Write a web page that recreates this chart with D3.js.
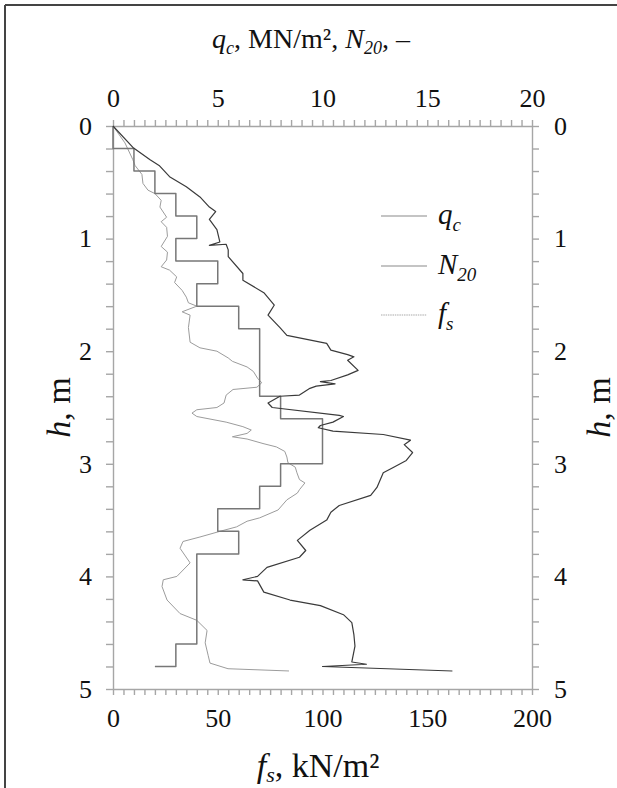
<!DOCTYPE html>
<html>
<head>
<meta charset="utf-8">
<script src="https://cdn.jsdelivr.net/npm/d3@7"></script>
<style>
	body { margin: 0; background: #fff; }
	svg { display: block; font-family: "Liberation Serif", "Times New Roman", serif; }
	.axis path, .axis line { stroke: #a6a6a6; stroke-width: 1.4px; }
	.axis text { font-family: "Liberation Serif", serif; font-size: 26px; fill: #111; }
</style>
</head>
<body>
<div id="chart_area"></div>
<script>

//////////////////////DATA//////////////////////////

// cone resistance q_c (MN/m2) against depth h (m)
var qcDepth = [0, 0.19, 0.30, 0.35, 0.45, 0.54, 0.63, 0.72, 0.76, 0.83, 0.92, 1.03, 1.06, 1.05, 1.10, 1.16,
	1.31, 1.37, 1.48, 1.59, 1.68, 1.79, 1.86, 1.93, 1.99, 2.03, 2.05, 2.08, 2.17, 2.21, 2.26, 2.27, 2.29,
	2.31, 2.33, 2.39, 2.40, 2.46, 2.50, 2.57, 2.58, 2.63, 2.66, 2.68, 2.71, 2.74, 2.79, 2.83, 2.90, 2.97,
	3.03, 3.08, 3.21, 3.28, 3.37, 3.43, 3.50, 3.59, 3.68, 3.77, 3.83, 3.92, 4.00, 4.03, 4.04, 4.14, 4.21,
	4.26, 4.34, 4.41, 4.52, 4.62, 4.76, 4.78, 4.80, 4.84];
var qcValue = [0, 0.95, 1.77, 2.2, 2.7, 3.5, 4.15, 4.6, 4.9, 4.6, 4.96, 5.1, 4.6, 5.4, 5.5, 5.5,
	6.2, 6.2, 7.2, 7.7, 7.4, 7.97, 8.3, 10.2, 10.4, 11.2, 11.5, 11.2, 11.7, 11.2, 10.4, 9.9, 10.6,
	9.7, 9.4, 8.9, 7.97, 7.4, 7.6, 10.8, 11.0, 10.5, 9.9, 9.8, 10.5, 12.9, 14.2, 13.9, 14.3, 14.0,
	13.4, 12.9, 12.6, 12.3, 10.8, 10.4, 10.2, 9.4, 8.8, 9.2, 8.9, 7.35, 6.9, 6.2, 6.9, 7.2, 8.45,
	9.9, 11.0, 11.4, 11.5, 11.55, 11.4, 12.1, 10.0, 16.2];

// number of blows N_20, one value per 0.2 m layer (top of layer), last point closes the step
var n20Depth = [0, 0.2, 0.4, 0.6, 0.8, 1.0, 1.2, 1.4, 1.6, 1.8, 2.0, 2.2, 2.4, 2.6, 2.8, 3.0, 3.2, 3.4,
	3.6, 3.8, 4.0, 4.2, 4.4, 4.6, 4.8];
var n20Value = [0, 1, 2, 3, 4, 3, 5, 4, 6, 7, 7, 7, 8, 10, 10, 8, 7, 5,
	6, 4, 4, 4, 4, 3, 2];

// sleeve friction f_s (kN/m2) against depth h (m)
var fsDepth = [0, 0.15, 0.30, 0.35, 0.43, 0.51, 0.57, 0.60, 0.66, 0.72, 0.81, 0.85, 0.90, 0.98, 1.07,
	1.12, 1.19, 1.25, 1.28, 1.34, 1.39, 1.46, 1.52, 1.57, 1.60, 1.65, 1.68, 1.79, 1.92, 1.97, 2.00, 2.06,
	2.09, 2.14, 2.18, 2.24, 2.28, 2.32, 2.34, 2.39, 2.46, 2.50, 2.52, 2.55, 2.58, 2.63, 2.67, 2.70, 2.73,
	2.76, 2.78, 2.82, 2.85, 2.89, 2.94, 2.99, 3.03, 3.08, 3.14, 3.17, 3.23, 3.26, 3.32, 3.41, 3.48, 3.51,
	3.56, 3.60, 3.65, 3.69, 3.75, 3.88, 4.00, 4.03, 4.09, 4.21, 4.33, 4.39, 4.48, 4.59, 4.70, 4.77, 4.82, 4.84];
var fsValue = [0, 5.7, 9.5, 10.5, 13.8, 14.3, 16.7, 20, 23, 22.4, 25.6, 23, 25.6, 26, 23,
	26, 25.6, 23, 27, 30.4, 29.4, 33, 35, 36, 40, 33, 36.8, 36, 36.8, 41.5, 49.6, 55,
	57, 64, 67, 69, 71, 68.7, 57.3, 54, 53, 49.6, 40, 37.7, 40, 54, 62, 66, 64,
	57, 64, 71.6, 78, 82, 83, 83.5, 87, 87.8, 89, 91.6, 89, 88, 83, 78.8, 70, 64,
	59, 51, 41.5, 33.4, 32, 36.8, 30.5, 24, 23.4, 25.8, 32, 40, 44.9, 44, 45.4, 46.3, 54.9, 84];

// tick values
var hTicks = d3.range(0, 26).map(function(i){ return i / 5; });      // every 0.2 m
var qcTicks = d3.range(0, 41).map(function(i){ return i / 2; });     // every 0.5 MN/m2
var fsTicks = d3.range(0, 41).map(function(i){ return i * 5; });     // every 5 kN/m2

//////////////////////FRAME//////////////////////////

var frame_width = 617;
var frame_height = 788;
var plot = {left: 113, right: 532, top: 126, bottom: 689};

var frame = d3.select("#chart_area").append("svg")
	.attr("width", frame_width)
	.attr("height", frame_height);

// border of the figure (top and left edges only are visible)
frame.append("line")
	.attr("x1", 5).attr("y1", 5).attr("x2", frame_width).attr("y2", 5)
	.style("stroke", "#444").style("stroke-width", 2);
frame.append("line")
	.attr("x1", 5).attr("y1", 5).attr("x2", 5).attr("y2", frame_height)
	.style("stroke", "#444").style("stroke-width", 2);

//////////////////////SCALES AND AXES//////////////////////////

var yScale = d3.scaleLinear().domain([0, 5]).range([plot.top, plot.bottom]);
var qcScale = d3.scaleLinear().domain([0, 20]).range([plot.left, plot.right]);
var fsScale = d3.scaleLinear().domain([0, 200]).range([plot.left, plot.right]);

var topAxis = d3.axisTop(qcScale).tickValues(qcTicks).tickSize(6).tickSizeOuter(0).tickPadding(13)
	.tickFormat(function(d){ return d % 5 === 0 ? d : ""; });
var bottomAxis = d3.axisBottom(fsScale).tickValues(fsTicks).tickSize(6).tickSizeOuter(0).tickPadding(14)
	.tickFormat(function(d){ return d % 50 === 0 ? d : ""; });
var leftAxis = d3.axisLeft(yScale).tickValues(hTicks).tickSize(7).tickSizeOuter(0).tickPadding(14)
	.tickFormat(function(d){ return Number.isInteger(d) ? d : ""; });
var rightAxis = d3.axisRight(yScale).tickValues(hTicks).tickSize(7).tickSizeOuter(0).tickPadding(15)
	.tickFormat(function(d){ return Number.isInteger(d) ? d : ""; });

function drawAxis(axis, transform) {
	frame.append("g").attr("class", "axis")
		.attr("transform", transform)
		.call(axis)
		.attr("font-family", "Liberation Serif")
		.attr("font-size", 26);
}
drawAxis(topAxis, "translate(0," + plot.top + ")");
drawAxis(bottomAxis, "translate(0," + plot.bottom + ")");
drawAxis(leftAxis, "translate(" + plot.left + ",0)");
drawAxis(rightAxis, "translate(" + plot.right + ",0)");

// axis titles
var topTitle = frame.append("text")
	.attr("x", 311).attr("y", 48)
	.attr("text-anchor", "middle")
	.style("font-size", "28px").style("fill", "#111");
topTitle.append("tspan").style("font-style", "italic").text("q");
topTitle.append("tspan").style("font-style", "italic").style("font-size", "18px").attr("dy", 6).text("c");
topTitle.append("tspan").attr("dy", -6).text(", MN/m², ");
topTitle.append("tspan").style("font-style", "italic").text("N");
topTitle.append("tspan").style("font-style", "italic").style("font-size", "18px").attr("dy", 6).text("20");
topTitle.append("tspan").attr("dy", -6).text(", –");

var bottomTitle = frame.append("text")
	.attr("x", 318).attr("y", 777)
	.attr("text-anchor", "middle")
	.style("font-size", "34px").style("fill", "#111");
bottomTitle.append("tspan").style("font-style", "italic").text("f");
bottomTitle.append("tspan").style("font-style", "italic").style("font-size", "22px").attr("dy", 5).text("s");
bottomTitle.append("tspan").attr("dy", -5).text(", kN/m²");

[58, 598].forEach(function(cx){
	var t = frame.append("text")
		.attr("transform", "translate(" + cx + "," + (plot.top + plot.bottom) / 2 + ") rotate(-90)")
		.attr("text-anchor", "middle")
		.attr("dy", "0.35em")
		.style("font-size", "34px").style("fill", "#111");
	t.append("tspan").style("font-style", "italic").text("h");
	t.append("tspan").text(", m");
});

//////////////////////CURVES//////////////////////////

var qcLine = d3.line()
	.x(function(d){ return qcScale(qcValue[d]); })
	.y(function(d){ return yScale(qcDepth[d]); });
var n20Line = d3.line()
	.x(function(d){ return qcScale(n20Value[d]); })
	.y(function(d){ return yScale(n20Depth[d]); })
	.curve(d3.curveStepBefore); // depth first, then jump to the next value
var fsLine = d3.line()
	.x(function(d){ return fsScale(fsValue[d]); })
	.y(function(d){ return yScale(fsDepth[d]); });

var series = [
	{name: "fs", path: fsLine(d3.range(fsDepth.length)), color: "#9c9c9c", width: 1.0},
	{name: "n20", path: n20Line(d3.range(n20Depth.length)), color: "#777", width: 1.5},
	{name: "qc", path: qcLine(d3.range(qcDepth.length)), color: "#3a3a3a", width: 1.2}
];

frame.selectAll(".curve")
	.data(series)
	.enter()
	.append("path")
	.attr("class", "curve")
	.attr("d", function(d){ return d.path; })
	.style("fill", "none")
	.style("stroke", function(d){ return d.color; })
	.style("stroke-width", function(d){ return d.width; })
	.style("stroke-linejoin", "round");

//////////////////////LEGEND//////////////////////////

var legend = [
	{main: "q", sub: "c", y: 216, color: "#8a8a8a", dash: null},
	{main: "N", sub: "20", y: 266, color: "#8a8a8a", dash: null},
	{main: "f", sub: "s", y: 315, color: "#aaa", dash: "1.5,0.8"}
];

var items = frame.selectAll(".legend")
	.data(legend)
	.enter()
	.append("g")
	.attr("class", "legend");

items.append("line")
	.attr("x1", 381).attr("x2", 427)
	.attr("y1", function(d){ return d.y; })
	.attr("y2", function(d){ return d.y; })
	.style("stroke", function(d){ return d.color; })
	.style("stroke-width", 1.2)
	.style("stroke-dasharray", function(d){ return d.dash; });

var labels = items.append("text")
	.attr("x", 438)
	.attr("y", function(d){ return d.y + 8; })
	.style("font-size", "29px").style("font-style", "italic").style("fill", "#111");
labels.append("tspan").text(function(d){ return d.main; });
labels.append("tspan").attr("dy", 7).style("font-size", "19px").text(function(d){ return d.sub; });

</script>
</body>
</html>
